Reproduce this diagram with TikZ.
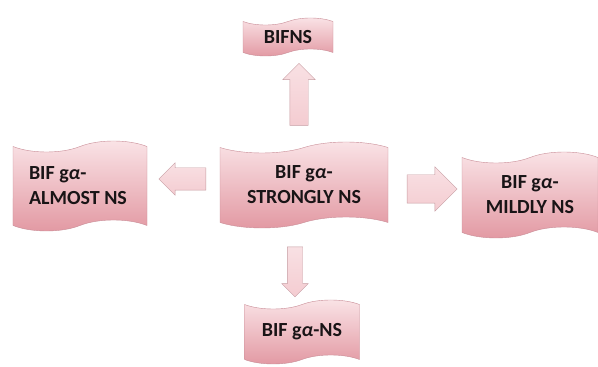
\documentclass[tikz,border=0pt]{standalone}
\usepackage{fontspec}
\setmainfont{Carlito}
\usetikzlibrary{shapes.symbols,shapes.arrows,positioning}
\definecolor{wavetop}{RGB}{250,228,231}
\definecolor{wavebot}{RGB}{226,152,162}
\definecolor{waveline}{RGB}{200,140,150}
\definecolor{arrowfill}{RGB}{244,204,209}
\definecolor{arrowline}{RGB}{198,156,162}
\definecolor{labeltext}{RGB}{25,20,22}
\tikzset{
    wavebox/.style={
        tape,
        tape bend top=in and out,
        tape bend bottom=in and out,
        tape bend height=11pt,
        top color=wavetop,
        bottom color=wavebot,
        draw=waveline,
        thin,
        text=labeltext,
        font=\bfseries\fontsize{20}{25}\selectfont,
        align=center,
        inner sep=1pt
    },
    blockarrow/.style={
        single arrow,
        top color=arrowfill!60!white,
        bottom color=arrowfill,
        draw=arrowline,
        thin,
        single arrow head indent=0pt
    }
}
\newcommand{\galpha}{g{\itshape α}}

\begin{document}
\begin{tikzpicture}[x=1pt,y=1pt]
    \useasboundingbox (0,0) rectangle (598,367);
    \node[wavebox,minimum width=168pt,minimum height=86pt] (strong) at (304,182) {BIF \galpha-\\STRONGLY NS};
    \node[wavebox,minimum width=90pt,minimum height=38pt,tape bend height=7pt] (bifns) at (288,330) {BIFNS};
    \node[wavebox,minimum width=134pt,minimum height=90pt,text width=102pt,align=flush left] (almost) at (80,181) {BIF \galpha-\\ALMOST NS};
    \node[wavebox,minimum width=136pt,minimum height=86pt] (mildly) at (530,172) {BIF \galpha-\\MILDLY NS};
    \node[wavebox,minimum width=115pt,minimum height=64pt,tape bend height=9pt] (gans) at (302,35) {BIF \galpha-NS};
    % block arrows out of the centre
    \node[blockarrow,shape border rotate=90,minimum height=62pt,inner sep=9pt,single arrow head extend=7pt] (toup) at (299,268) {};
    \node[blockarrow,shape border rotate=180,minimum height=47pt,inner sep=11pt,single arrow head extend=5pt] (toleft) at (188,188) {};
    \node[blockarrow,shape border rotate=0,minimum height=50pt,inner sep=14pt,single arrow head extend=8pt] (toright) at (425,178) {};
    \node[blockarrow,shape border rotate=270,minimum height=50pt,inner sep=7.5pt,single arrow head extend=5.5pt] (todown) at (295,99) {};
\end{tikzpicture}
\end{document}
